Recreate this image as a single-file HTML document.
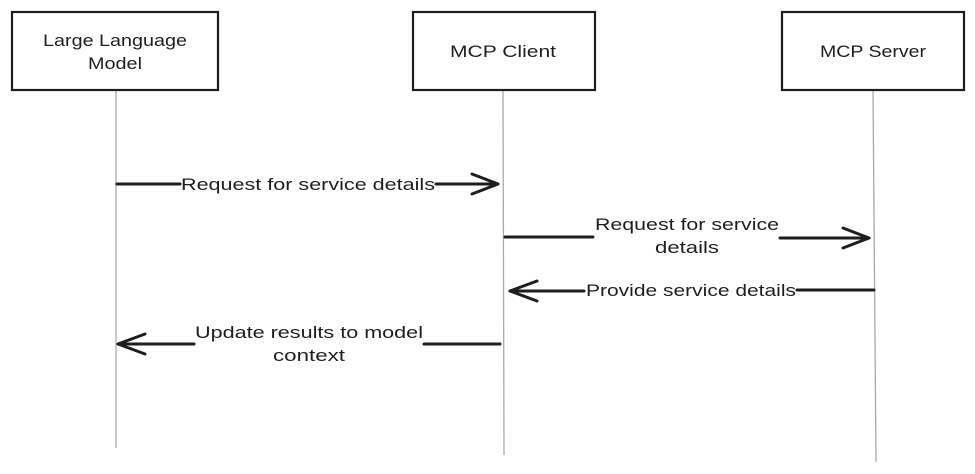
<!DOCTYPE html>
<html><head><meta charset="utf-8"><style>
html,body{margin:0;padding:0;background:#fff;}
svg{display:block;}
text{font-family:"Liberation Sans",sans-serif;font-size:17px;fill:#1e1e1e;text-anchor:middle;}
</style></head><body>
<svg width="975" height="474" viewBox="0 0 975 474" xmlns="http://www.w3.org/2000/svg">
<g fill="none" stroke="#aaa" stroke-width="1.3">
<line x1="116" y1="90" x2="116" y2="448"/>
<line x1="503" y1="90" x2="504" y2="455"/>
<line x1="873" y1="90" x2="876" y2="462"/>
</g>
<g fill="#fff" stroke="#1e1e1e" stroke-width="2.2">
<rect x="12" y="12" width="206" height="78"/>
<rect x="413" y="12" width="182" height="78"/>
<rect x="782" y="12" width="182" height="78"/>
</g>
<text x="115" y="46" textLength="144" lengthAdjust="spacingAndGlyphs">Large Language</text>
<text x="115" y="69" textLength="54" lengthAdjust="spacingAndGlyphs">Model</text>
<text x="503" y="57" textLength="106" lengthAdjust="spacingAndGlyphs">MCP Client</text>
<text x="873" y="57" textLength="106" lengthAdjust="spacingAndGlyphs">MCP Server</text>
<g fill="none" stroke="#1e1e1e" stroke-width="3" stroke-linecap="round" stroke-linejoin="round">
<line x1="117" y1="184" x2="180" y2="184"/>
<line x1="436" y1="184" x2="498" y2="184"/>
<polyline points="472,174 498,184 472,194"/>
<line x1="505" y1="237" x2="593" y2="237"/>
<line x1="780" y1="238" x2="869" y2="238"/>
<polyline points="843,228 869,238 843,248"/>
<line x1="797" y1="290" x2="874" y2="290"/>
<line x1="510" y1="291" x2="584" y2="291"/>
<polyline points="537,281 510,291 537,301"/>
<line x1="118" y1="344" x2="194" y2="344"/>
<polyline points="145,334 118,344 145,354"/>
<line x1="424" y1="344" x2="500" y2="344"/>
</g>
<text x="308" y="190" textLength="254" lengthAdjust="spacingAndGlyphs">Request for service details</text>
<text x="687" y="230" textLength="184" lengthAdjust="spacingAndGlyphs">Request for service</text>
<text x="687" y="253" textLength="64" lengthAdjust="spacingAndGlyphs">details</text>
<text x="691" y="296" textLength="210" lengthAdjust="spacingAndGlyphs">Provide service details</text>
<text x="309" y="338" textLength="228" lengthAdjust="spacingAndGlyphs">Update results to model</text>
<text x="309" y="361" textLength="72" lengthAdjust="spacingAndGlyphs">context</text>
</svg>
</body></html>
